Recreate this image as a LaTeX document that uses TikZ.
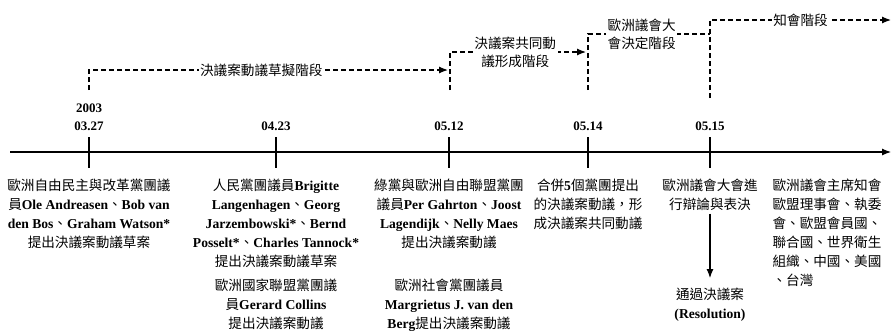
\documentclass[tikz,border=0pt]{standalone}
\usepackage{fontspec}
\setmainfont{Noto Sans CJK TC}
\newfontfamily\latin{Liberation Serif}
\newcommand{\en}[1]{{\latin\bfseries #1}}
\usetikzlibrary{positioning,arrows.meta}

\begin{document}
\begin{tikzpicture}[x=1pt,y=-1pt,line width=1.1pt,
  >={Latex[length=9pt,width=7pt]},
  date/.style={font=\latin\bfseries\fontsize{13}{14}\selectfont,inner sep=0pt},
  event/.style={align=center,font=\fontsize{13.6}{19}\selectfont,inner sep=0pt,anchor=north},
  phase/.style={dash pattern=on 5pt off 3pt,line width=1.2pt},
  tag/.style={fill=white,align=center,inner sep=1.5pt,font=\fontsize{13.6}{18}\selectfont}]

  \useasboundingbox (0,0) rectangle (894,330);

  % time axis
  \coordinate (L) at (10,152);
  \coordinate (R) at (891,152);
  \draw[->] (L) -- (R);
  \foreach \x in {89,276,449,588,710}
    \draw (\x,137) -- (\x,168);

  % dates
  \node[date] (Y1) at (89,108) {2003};
  \node[date] (D1) at (89,126) {03.27};
  \node[date] (D2) at (276,126) {04.23};
  \node[date] (D3) at (449,126) {05.12};
  \node[date] (D4) at (588,126) {05.14};
  \node[date] (D5) at (710,126) {05.15};

  % phases
  \draw[phase,->] (89,90) |- node[tag,pos=0.74] {決議案動議草擬階段} (448,70);
  \draw[phase,->] (450,90) |- node[tag,pos=0.74] {決議案共同動\\議形成階段} (586,52);
  \draw[phase] (588,90) |- node[tag,pos=0.72] {歐洲議會大\\會決定階段} (710,34);
  \draw[phase,->] (710,98) |- node[tag,pos=0.75] {知會階段} (891,20);

  % events
  \node[event] (E1) at (89,178) {歐洲自由民主與改革黨團議\\員\en{Ole Andreasen}、\en{Bob van}\\\en{den Bos}、\en{Graham Watson*}\\提出決議案動議草案};
  \node[event] (E2) at (276,178) {人民黨團議員\en{Brigitte}\\\en{Langenhagen}、\en{Georg}\\\en{Jarzembowski*}、\en{Bernd}\\\en{Posselt*}、\en{Charles Tannock*}\\提出決議案動議草案};
  \node[event] (E2b) at (276,278) {歐洲國家聯盟黨團議\\員\en{Gerard Collins}\\提出決議案動議};
  \node[event] (E3) at (449,178) {綠黨與歐洲自由聯盟黨團\\議員\en{Per Gahrton}、\en{Joost}\\\en{Lagendijk}、\en{Nelly Maes}\\提出決議案動議};
  \node[event] (E3b) at (449,278) {歐洲社會黨團議員\\\en{Margrietus J. van den}\\\en{Berg}提出決議案動議};
  \node[event] (E4) at (588,178) {合併\en{5}個黨團提出\\的決議案動議，形\\成決議案共同動議};
  \node[event] (E5) at (710,178) {歐洲議會大會進\\行辯論與表決};
  \node[event] (R5) at (710,287) {通過決議案\\\en{(Resolution)}};
  \node[event,anchor=north west,align=left] (E6) at (772,178) {歐洲議會主席知會\\歐盟理事會、執委\\會、歐盟會員國、\\聯合國、世界衛生\\組織、中國、美國\\、台灣};

  \draw[->,shorten <=3pt,shorten >=9pt] (E5) -- (R5);
\end{tikzpicture}
\end{document}
